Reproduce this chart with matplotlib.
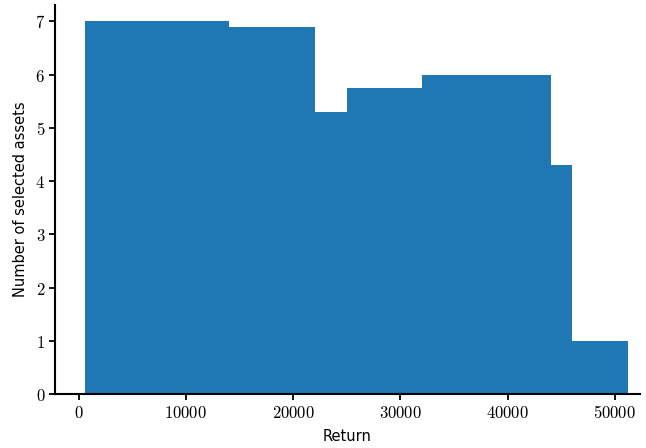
import matplotlib.pyplot as plt
from matplotlib.ticker import FuncFormatter

plt.rcParams['mathtext.fontset'] = 'cm'

# bin edges (Return) and heights (Number of selected assets)
edges = [600, 14000, 22000, 25000, 32000, 44000, 46000, 51200]
counts = [7.0, 6.9, 5.3, 5.75, 6.0, 4.3, 1.0]
xticks = [0, 10000, 20000, 30000, 40000, 50000]
yticks = [0, 1, 2, 3, 4, 5, 6, 7]

fig = plt.figure(figsize=(6.46, 4.48), dpi=100)
ax = fig.add_axes([0.085, 0.12, 0.905, 0.869])

ax.stairs(counts, edges, fill=True, color='#1f77b4')

ax.set_xlim(-2200, 52300)
ax.set_ylim(0, 7.31)
ax.set_xticks(xticks)
ax.set_yticks(yticks)
ax.xaxis.set_major_formatter(FuncFormatter(lambda v, p: r'$%d$' % v))
ax.yaxis.set_major_formatter(FuncFormatter(lambda v, p: r'$%d$' % v))
ax.tick_params(labelsize=12, width=1.3, length=4, pad=3)

ax.spines['top'].set_visible(False)
ax.spines['right'].set_visible(False)
ax.spines['left'].set_linewidth(1.5)
ax.spines['bottom'].set_linewidth(1.5)

ax.set_xlabel('Return', fontsize=10.5, labelpad=5)
ax.set_ylabel('Number of selected assets', fontsize=10.5, labelpad=5)

fig.savefig('out.png', dpi=100)
